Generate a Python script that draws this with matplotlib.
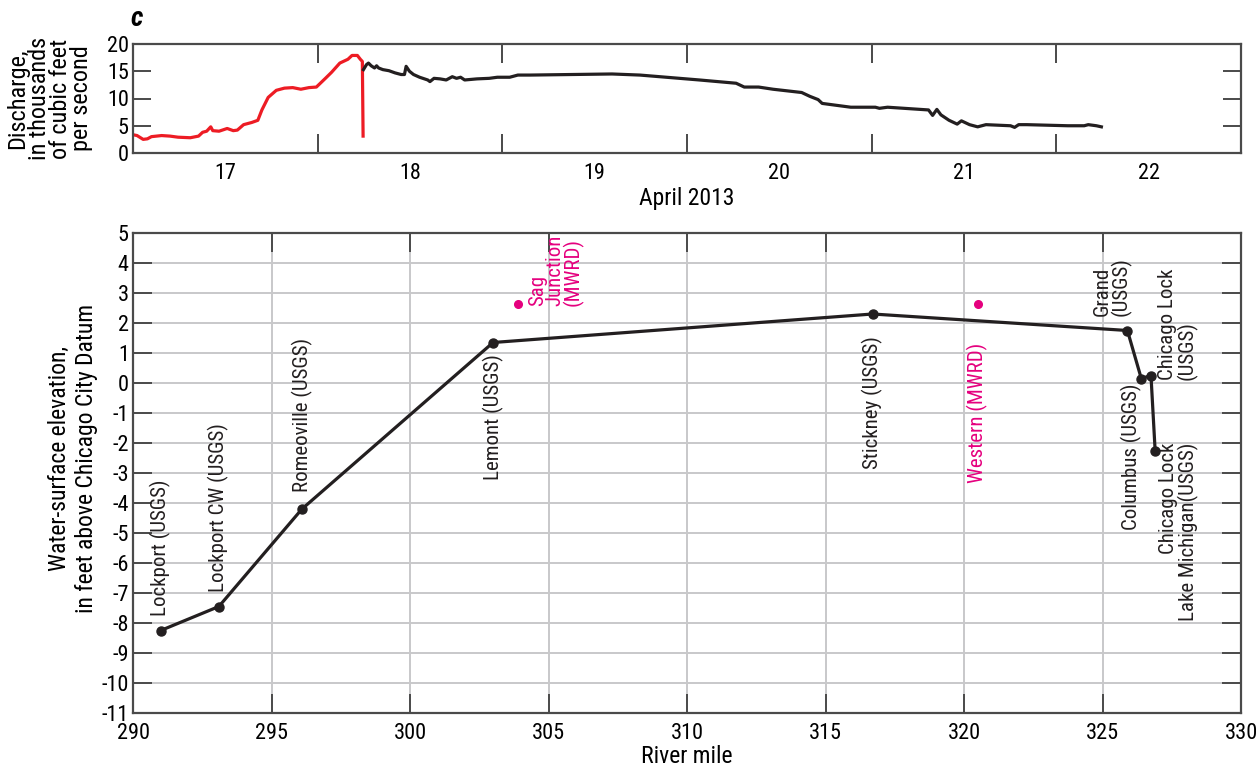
import numpy as np
import matplotlib
matplotlib.use("Agg")
import matplotlib.pyplot as plt
from matplotlib import font_manager

# ------------------#
# Data
# ------------------#

# discharge, thousands of cfs; x = day of April 2013 (17.0 = midnight at start of Apr 17)
red_day = [16.993, 17.022, 17.055, 17.078, 17.100, 17.155, 17.200, 17.244, 17.310,
           17.355, 17.377, 17.399, 17.421, 17.432, 17.466, 17.510, 17.543, 17.565,
           17.599, 17.643, 17.676, 17.698, 17.732, 17.776, 17.820, 17.865, 17.909,
           17.953, 17.993, 18.042, 18.075, 18.120, 18.164, 18.186, 18.215, 18.231,
           18.242, 18.246]
red_q = [3.4, 3.2, 2.5, 2.6, 3.0, 3.2, 3.1, 2.9, 2.8,
         3.1, 3.8, 4.0, 4.8, 4.1, 4.0, 4.5, 4.1, 4.2,
         5.2, 5.6, 6.0, 7.9, 10.2, 11.5, 11.9, 12.0, 11.7,
         12.0, 12.1, 13.7, 14.8, 16.5, 17.2, 17.9, 17.9, 17.2,
         16.8, 3.1]

black_day = [18.248, 18.264, 18.275, 18.290, 18.308, 18.319, 18.330, 18.353, 18.386,
             18.419, 18.452, 18.470, 18.479, 18.497, 18.519, 18.552, 18.596, 18.608,
             18.630, 18.663, 18.696, 18.729, 18.752, 18.774, 18.796, 18.863, 18.929,
             18.973, 19.040, 19.084, 19.151, 19.373, 19.594, 19.745, 20.067, 20.266,
             20.310, 20.388, 20.466, 20.621, 20.665, 20.710, 20.732, 20.798, 20.887,
             21.020, 21.042, 21.086, 21.175, 21.308, 21.330, 21.353, 21.375, 21.419,
             21.463, 21.486, 21.530, 21.574, 21.619, 21.752, 21.774, 21.796, 21.840,
             22.062, 22.151, 22.173, 22.217, 22.244]
black_q = [15.3, 16.2, 16.5, 16.0, 15.6, 16.0, 15.6, 15.3, 15.1,
           14.7, 14.4, 14.4, 15.9, 15.0, 14.4, 13.9, 13.4, 13.1,
           13.7, 13.6, 13.4, 14.0, 13.7, 13.9, 13.4, 13.6, 13.7,
           13.9, 13.9, 14.3, 14.3, 14.4, 14.5, 14.3, 13.4, 12.8,
           12.1, 12.1, 11.7, 11.1, 10.4, 9.8, 9.1, 8.8, 8.4,
           8.4, 8.2, 8.4, 8.2, 7.9, 6.9, 8.0, 7.0, 6.0,
           5.3, 5.9, 5.2, 4.8, 5.2, 5.0, 4.7, 5.2, 5.2,
           5.0, 5.0, 5.2, 5.0, 4.8]

day_labels = ["17", "18", "19", "20", "21", "22"]

# water-surface profile
usgs_mile = [291.0, 293.1, 296.1, 303.0, 316.7, 325.9, 326.4, 326.75, 326.9]
usgs_elev = [-8.25, -7.45, -4.2, 1.35, 2.3, 1.75, 0.15, 0.25, -2.25]
mwrd_mile = [303.9, 320.5]
mwrd_elev = [2.65, 2.65]

RED = "#ed1c24"
DARK = "#231f20"
MAGENTA = "#e5007e"
GRID = "#c8c8ca"
SPINE = "#4a4a4a"

# condensed sans, close to the Univers Condensed of the original
avail = {f.name for f in font_manager.fontManager.ttflist}
fam = "DejaVu Sans"
for cand in ["Roboto Condensed", "Archivo Narrow", "PT Sans Narrow", "Liberation Sans Narrow",
             "Sofia Sans Semi Condensed", "Open Sans Condensed", "Fira Sans Condensed",
             "IBM Plex Sans Condensed"]:
    if cand in avail:
        fam = cand
        break
plt.rcParams["font.family"] = [fam, "DejaVu Sans"]
if fam == "DejaVu Sans":
    plt.rcParams["font.stretch"] = "condensed"
plt.rcParams["font.size"] = 14
plt.rcParams["axes.unicode_minus"] = False

fig = plt.figure(figsize=(12.59, 7.71), dpi=100)

# ------------------#
# Top panel: discharge
# ------------------#
ax1 = fig.add_axes([133 / 1259, 1 - 153 / 771, 1108 / 1259, 109 / 771])
ax1.plot(red_day, red_q, color=RED, lw=2.3, solid_joinstyle="round")
ax1.plot(black_day, black_q, color=DARK, lw=2.3, solid_joinstyle="round")
ax1.set_xlim(17, 23)
ax1.set_ylim(0, 20)
ax1.set_yticks([0, 5, 10, 15, 20])
ax1.set_xticks(np.arange(18, 23))
ax1.set_xticklabels([])
ax1.set_xticks(np.arange(17.5, 23, 1), minor=True)
ax1.set_xticklabels(day_labels, minor=True)
ax1.tick_params(axis="x", which="major", direction="in", top=True, length=14, width=1.4, color=SPINE)
ax1.tick_params(axis="x", which="minor", length=0, labelsize=16, pad=7)
ax1.tick_params(axis="y", direction="in", right=True, length=13, width=1.4, color=SPINE,
                labelsize=16, pad=3)
ax1.set_xlabel("April 2013", fontsize=17, labelpad=2)
ax1.set_ylabel("Discharge,\nin thousands\nof cubic feet\nper second", fontsize=17.5,
               linespacing=0.9)
ax1.yaxis.set_label_coords(-0.036, 0.5)
for s in ax1.spines.values():
    s.set_color(SPINE)
    s.set_linewidth(1.6)
ax1.text(-0.002, 1.11, "c", transform=ax1.transAxes, fontsize=20, fontweight="bold",
         fontstyle="italic", ha="left", va="bottom")

# ------------------#
# Bottom panel: water-surface profile
# ------------------#
ax2 = fig.add_axes([133 / 1259, 1 - 713 / 771, 1108 / 1259, 480 / 771])
ax2.grid(True, color=GRID, lw=1.4, zorder=0)
ax2.plot(usgs_mile, usgs_elev, color=DARK, lw=2.3, marker="o", ms=6.5, zorder=3)
ax2.plot(mwrd_mile, mwrd_elev, ls="none", color=MAGENTA, marker="o", ms=5.5, zorder=3)
ax2.set_xlim(290, 330)
ax2.set_ylim(-11, 5)
ax2.set_xticks(np.arange(290, 331, 5))
ax2.set_yticks(np.arange(-11, 6, 1))
ax2.tick_params(axis="both", direction="in", top=True, right=True, length=14, width=1.4,
                color=SPINE, labelsize=16)
ax2.tick_params(axis="y", pad=3)
ax2.tick_params(axis="x", pad=7)
ax2.set_xlabel("River mile", fontsize=17, labelpad=1)
ax2.set_ylabel("Water-surface elevation,\nin feet above Chicago City Datum", fontsize=17,
               linespacing=1.2)
ax2.yaxis.set_label_coords(-0.032, 0.53)
for s in ax2.spines.values():
    s.set_color(SPINE)
    s.set_linewidth(1.6)

lab = dict(rotation=90, fontsize=15, color=DARK, zorder=4)
ax2.text(291.0, -7.75, "Lockport (USGS)", ha="center", va="bottom", **lab)
ax2.text(293.1, -6.95, "Lockport CW (USGS)", ha="center", va="bottom", **lab)
ax2.text(296.1, -3.65, "Romeoville (USGS)", ha="center", va="bottom", **lab)
ax2.text(303.0, 0.95, "Lemont (USGS)", ha="center", va="top", **lab)
ax2.text(316.7, 1.55, "Stickney (USGS)", ha="center", va="top", **lab)
ax2.text(326.05, 2.25, "Grand\n(USGS)", ha="right", va="bottom", multialignment="left",
         linespacing=0.95, **lab)
ax2.text(326.05, 0.0, "Columbus (USGS)", ha="center", va="top", **lab)
ax2.text(327.0, 0.1, "Chicago Lock\n(USGS)", ha="left", va="bottom", multialignment="left",
         linespacing=0.95, **lab)
ax2.text(327.05, -2.0, "Chicago Lock\nLake Michigan(USGS)", ha="left", va="top",
         multialignment="right", linespacing=0.95, **lab)

mlab = dict(rotation=90, fontsize=15, color=MAGENTA, zorder=4)
ax2.text(304.25, 2.55, "Sag\nJunction\n(MWRD)", ha="left", va="bottom",
         multialignment="left", linespacing=0.9, **mlab)
ax2.text(320.5, 1.35, "Western (MWRD)", ha="center", va="top", **mlab)

plt.savefig("out.png", dpi=100)
